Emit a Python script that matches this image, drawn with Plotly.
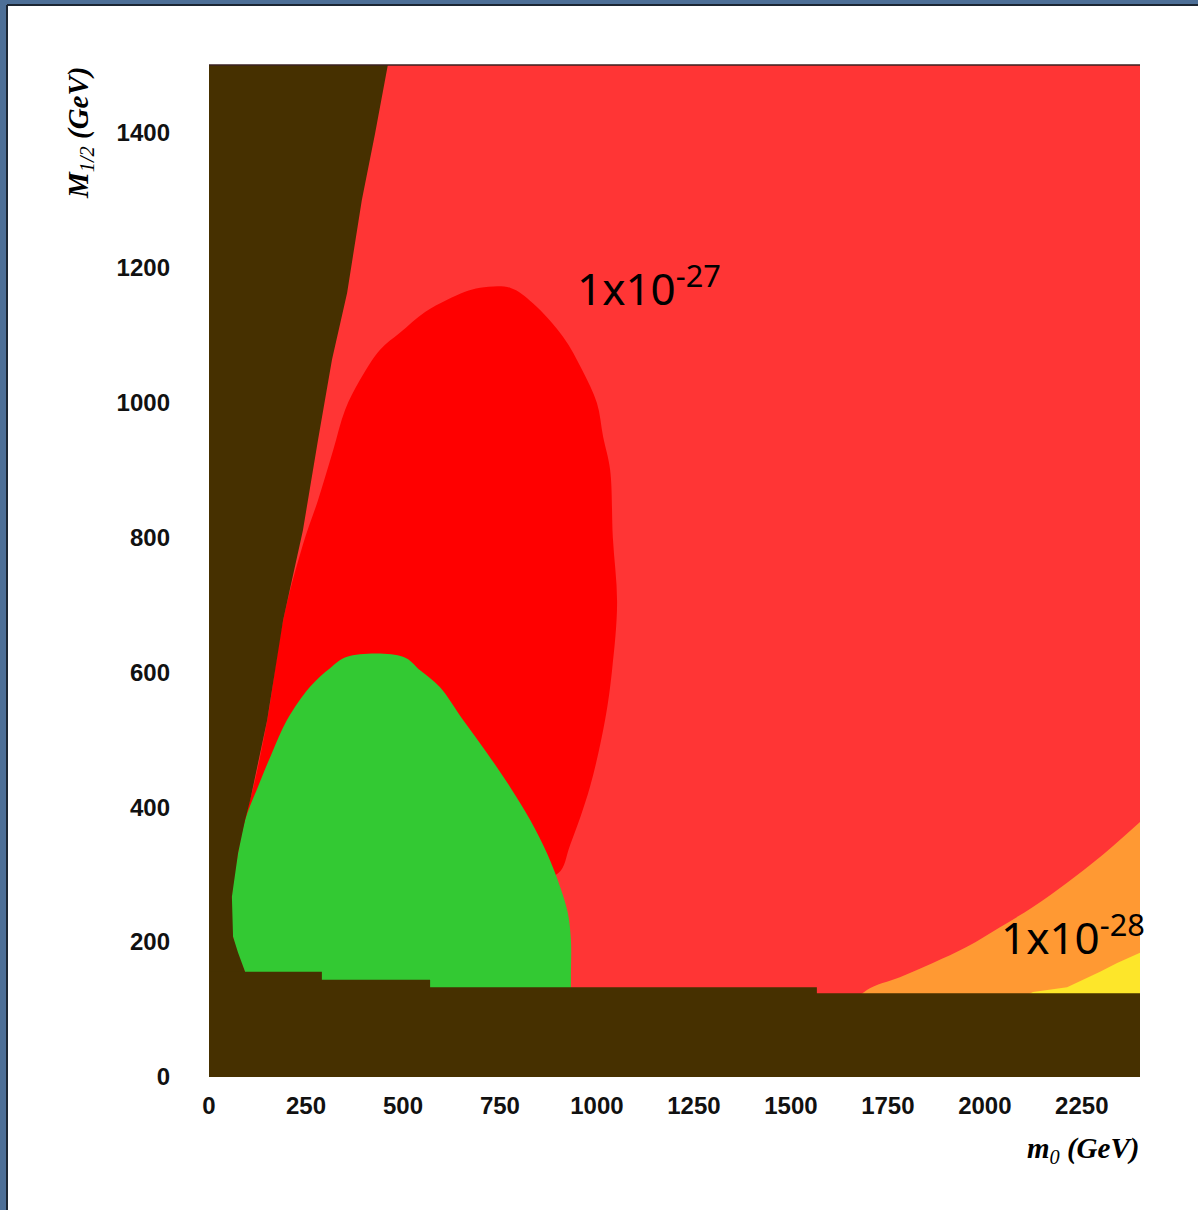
import plotly.graph_objects as go

# ---------------- data (region boundaries in m0 [GeV], M1/2 [GeV]) ----------------
x_range = [0, 2400]
y_range = [0, 1500]
x_ticks = [0, 250, 500, 750, 1000, 1250, 1500, 1750, 2000, 2250]
y_ticks = [0, 200, 400, 600, 800, 1000, 1200, 1400]

# light-red background region (whole plane)
lightred_m0 = [0, 2400, 2400, 0]
lightred_M = [0, 0, 1500, 1500]

# orange region (lower right)
orange_m0 = [2400, 2297, 2212, 2124, 2039, 1954, 1866, 1781, 1696, 1652, 2400]
orange_M = [378, 326, 288, 252, 222, 193, 169, 148, 129, 100, 100]

# yellow region (lower right corner)
yellow_m0 = [2400, 2341, 2297, 2253, 2212, 2124, 2039, 2400]
yellow_M = [184, 169, 156, 144, 133, 126, 100, 100]

# red region (elongated ellipse)
red_m0 = [80, 106, 150, 191, 242, 281, 320, 351, 389, 441, 492, 557, 614, 660, 699, 776,
          835, 913, 962, 1000, 1016, 1034, 1041, 1052, 1039, 1021, 982, 931, 900, 802, 235]
red_M = [366, 411, 529, 677, 789, 855, 929, 989, 1033, 1078, 1103, 1134, 1152, 1164, 1170, 1170,
         1147, 1097, 1048, 999, 949, 900, 800, 703, 603, 529, 430, 344, 302, 292, 292]

# green region
green_m0 = [93, 62, 59, 75, 93, 126, 162, 201, 260, 312, 356, 500, 544, 595, 655, 717,
            776, 828, 871, 905, 925, 933, 933, 933, 933, 900, 150, 93, 93]
green_M = [156, 208, 267, 332, 381, 430, 480, 529, 578, 606, 623, 623, 603, 578, 529, 480,
           430, 381, 332, 282, 243, 203, 150, 110, 100, 100, 100, 100, 120]

# excluded region on the left
left_m0 = [0, 461, 428, 394, 356, 317, 281, 242, 191, 150, 106, 93, 75, 59, 62, 75, 93, 93, 0]
left_M = [1500, 1500, 1398, 1300, 1162, 1063, 944, 810, 677, 529, 410, 381, 332, 267, 208, 184, 156, 0, 0]

# excluded strip at the bottom (stepped)
bottom_m0 = [0, 2400, 2400, 1567, 1567, 570, 570, 291, 291, 0]
bottom_M = [0, 0, 124, 124, 133, 133, 144, 144, 156, 156]

labels = [
    dict(text="1x10<sup>-27</sup>", m0=943, M=1172),
    dict(text="1x10<sup>-28</sup>", m0=2036, M=210),
]

# ---------------- styling ----------------
BROWN = "#463000"
LIGHTRED = "#ff3535"
RED = "#ff0000"
GREEN = "#33c933"
ORANGE = "#ff9933"
YELLOW = "#fde62a"

fig = go.Figure()

def region(xs, ys, color, smooth=False):
    line = dict(width=0, color=color)
    if smooth:
        line.update(shape="spline", smoothing=1.0)
    fig.add_trace(go.Scatter(x=xs, y=ys, mode="lines", fill="toself", fillcolor=color,
                             line=line, hoverinfo="skip", showlegend=False))

region(lightred_m0, lightred_M, LIGHTRED)
region(orange_m0, orange_M, ORANGE, smooth=True)
region(yellow_m0, yellow_M, YELLOW)
region(red_m0, red_M, RED, smooth=True)
region(green_m0, green_M, GREEN, smooth=True)
region(left_m0, left_M, BROWN)
region(bottom_m0, bottom_M, BROWN)

for lab in labels:
    fig.add_annotation(x=lab["m0"], y=lab["M"], text=lab["text"], showarrow=False,
                       xanchor="left", yanchor="middle",
                       font=dict(family="Noto Sans", size=44, color="black"))

W, H = 1198, 1210
L, R, T, B = 209, 58, 65, 133
pw, ph = W - L - R, H - T - B

def px(xp):
    return (xp - L) / pw

def py(yp):
    return (H - B - yp) / ph

# axis titles
fig.add_annotation(xref="paper", yref="paper", x=px(1141), y=py(1150), xanchor="right", yanchor="middle",
                   text="<b><i>m</i></b><sub><i>0</i></sub><b><i> (GeV)</i></b>", showarrow=False,
                   font=dict(family="Liberation Serif", size=29, color="black"))
fig.add_annotation(xref="paper", yref="paper", x=px(80), y=py(133), xanchor="center", yanchor="middle",
                   textangle=-90,
                   text="<b><i>M</i></b><sub><i>1/2</i></sub><b><i> (GeV)</i></b>", showarrow=False,
                   font=dict(family="Liberation Serif", size=29, color="black"))

# slide frame (blue border at left and top)
fig.add_shape(type="rect", xref="paper", yref="paper", x0=px(0), x1=px(8), y0=py(H), y1=py(0),
              fillcolor="#4d6f97", line=dict(width=0), layer="above")
fig.add_shape(type="rect", xref="paper", yref="paper", x0=px(0), x1=px(W), y0=py(5), y1=py(0),
              fillcolor="#4d6f97", line=dict(width=0), layer="above")
fig.add_shape(type="line", xref="paper", yref="paper", x0=px(7), x1=px(7), y0=py(H), y1=py(5),
              line=dict(color="#1c2633", width=2), layer="above")
fig.add_shape(type="line", xref="paper", yref="paper", x0=px(7), x1=px(W), y0=py(5), y1=py(5),
              line=dict(color="#1c2633", width=2), layer="above")
# thin dark line at the top of the plot area
fig.add_shape(type="line", xref="paper", yref="paper", x0=0, x1=1, y0=1, y1=1,
              line=dict(color="#3a2020", width=1.5), layer="above")

tickfont = dict(family="Liberation Sans", size=24, color="#111111", weight="bold")
fig.update_xaxes(range=x_range, tickvals=x_ticks, ticktext=[str(v) for v in x_ticks],
                 showgrid=False, zeroline=False, showline=False,
                 ticks="", ticklabelstandoff=12, tickfont=tickfont)
fig.update_yaxes(range=y_range, tickvals=y_ticks, ticktext=[str(v) for v in y_ticks],
                 showgrid=False, zeroline=False, showline=False,
                 ticks="", ticklabelstandoff=38, tickfont=tickfont)

fig.update_layout(width=W, height=H, margin=dict(l=L, r=R, t=T, b=B),
                  paper_bgcolor="white", plot_bgcolor=BROWN, showlegend=False)

fig.write_html("out.html")
